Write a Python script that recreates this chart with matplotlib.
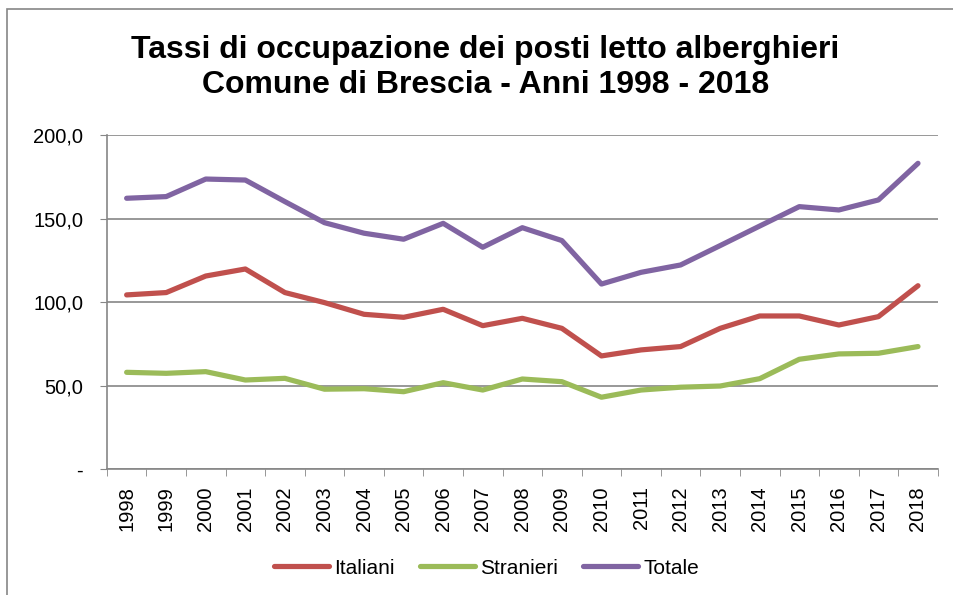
import matplotlib.pyplot as plt
from matplotlib.patches import Rectangle
import numpy as np

plt.rcParams['font.family'] = ['Liberation Sans', 'DejaVu Sans']

anni = list(range(1998, 2019))
italiani = [104.4, 105.8, 115.7, 119.9, 105.8, 99.8, 92.8, 91.0, 95.8, 86.0, 90.4,
            84.4, 67.9, 71.5, 73.5, 84.4, 91.8, 91.8, 86.4, 91.4, 109.9]
stranieri = [58.1, 57.5, 58.5, 53.5, 54.5, 48.0, 48.3, 46.5, 51.9, 47.5, 54.1,
             52.5, 43.2, 47.5, 49.2, 49.9, 54.3, 65.9, 69.1, 69.5, 73.5]
totale = [162.2, 163.2, 173.7, 173.1, 160.2, 147.6, 141.3, 137.7, 147.2, 132.9, 144.6,
          136.9, 110.9, 117.9, 122.3, 133.9, 145.6, 157.2, 155.2, 161.2, 183.1]
y_ticks = [0, 50, 100, 150, 200]

fig = plt.figure(figsize=(9.54, 5.95), dpi=100)
ax = fig.add_axes([0.112, 0.211, 0.871, 0.562])

x = np.arange(len(anni))
ax.plot(x, italiani, color='#C0504D', lw=3.75, solid_capstyle='round', label='Italiani')
ax.plot(x, stranieri, color='#9BBB59', lw=3.75, solid_capstyle='round', label='Stranieri')
ax.plot(x, totale, color='#8064A2', lw=3.75, solid_capstyle='round', label='Totale')

ax.set_xlim(-0.5, len(anni) - 0.5)
ax.set_ylim(0, 200)
ax.set_yticks(y_ticks)
ax.set_yticklabels(['-' if v == 0 else f'{v:.1f}'.replace('.', ',') for v in y_ticks], fontsize=14.5)
ax.yaxis.grid(True, color='#868686', lw=1.2)
ax.set_axisbelow(True)

ax.set_xticks(x)
ax.set_xticklabels([str(a) for a in anni], rotation=90, fontsize=14.5)
ax.set_xticks(np.arange(-0.5, len(anni)), minor=True)
ax.tick_params(axis='x', which='major', length=0, pad=12)
ax.tick_params(axis='x', which='minor', length=5, color='#868686')
ax.tick_params(axis='y', length=5, color='#868686', pad=12)

for s in ['top', 'right']:
    ax.spines[s].set_visible(False)
for s in ['left', 'bottom']:
    ax.spines[s].set_color('#868686')
    ax.spines[s].set_linewidth(1.2)

fig.text(0.509, 0.9025, 'Tassi di occupazione dei posti letto alberghieri',
         ha='center', va='baseline', fontsize=23, fontweight='bold')
fig.text(0.509, 0.8437, 'Comune di Brescia - Anni 1998 - 2018',
         ha='center', va='baseline', fontsize=23, fontweight='bold')

fig.legend(loc='center', bbox_to_anchor=(0.51, 0.045), ncol=3, frameon=False,
           fontsize=15, handlelength=2.64, handletextpad=0.25, columnspacing=1.2)

fig.patches.append(Rectangle((0.0073, -0.1), 1.2, 1.0857, transform=fig.transFigure,
                             fill=False, edgecolor='#868686', lw=1.2))

fig.savefig('out.png', dpi=100)
